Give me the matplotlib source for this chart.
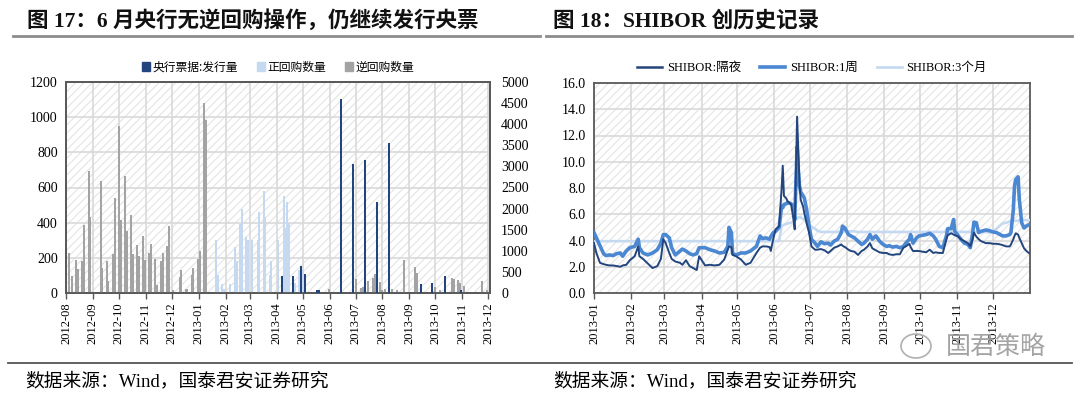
import matplotlib
matplotlib.use('Agg')
import matplotlib.pyplot as plt
import matplotlib.dates as mdates
from matplotlib.patches import Rectangle, Patch, Ellipse
from matplotlib.lines import Line2D
import pandas as pd

plt.rcParams['font.family'] = ['Liberation Serif', 'Noto Sans CJK SC', 'DejaVu Sans']
plt.rcParams['hatch.color'] = '#e4e4e4'
plt.rcParams['hatch.linewidth'] = 0.8

# ---- 图17 data (亿元) ----
cb_dates = ['2013-04-07', '2013-04-20', '2013-04-29', '2013-05-04', '2013-05-18', '2013-05-20',
            '2013-06-14', '2013-06-28', '2013-07-12', '2013-07-26', '2013-08-09', '2013-09-14',
            '2013-09-27', '2013-10-12', '2013-10-30']
cb_vals = [410, 410, 640, 460, 80, 80, 4605, 3065, 3160, 2150, 3555, 220, 237, 410, 80]

pr_dates = ['2013-01-21', '2013-01-23', '2013-01-28', '2013-01-30', '2013-02-06', '2013-02-12',
            '2013-02-14', '2013-02-18', '2013-02-20', '2013-02-25', '2013-02-27', '2013-03-03',
            '2013-03-10', '2013-03-12', '2013-03-17', '2013-03-19', '2013-03-24', '2013-03-26',
            '2013-04-02', '2013-04-09', '2013-04-11', '2013-04-13', '2013-04-15', '2013-04-22',
            '2013-04-27', '2013-05-01', '2013-05-03']
pr_vals = [300, 100, 50, 20, 50, 260, 180, 390, 480, 320, 300, 300, 300, 460, 580, 430, 100, 180,
           300, 550, 370, 520, 400, 55, 130, 133, 110]

rr_dates = ['2012-08-05', '2012-08-08', '2012-08-12', '2012-08-15', '2012-08-19', '2012-08-22',
            '2012-08-27', '2012-08-29', '2012-09-10', '2012-09-12', '2012-09-17', '2012-09-19',
            '2012-09-24', '2012-09-26', '2012-10-01', '2012-10-03', '2012-10-08', '2012-10-10',
            '2012-10-15', '2012-10-17', '2012-10-22', '2012-10-24', '2012-10-29', '2012-10-31',
            '2012-11-05', '2012-11-07', '2012-11-12', '2012-11-14', '2012-11-19', '2012-11-21',
            '2012-11-26', '2012-11-28', '2012-12-02', '2012-12-10', '2012-12-12', '2012-12-17',
            '2012-12-19', '2012-12-24', '2012-12-26', '2012-12-31', '2013-01-02', '2013-01-07',
            '2013-01-09', '2013-05-31', '2013-07-01', '2013-07-07', '2013-07-09', '2013-07-15',
            '2013-07-21', '2013-07-23', '2013-07-29', '2013-07-31', '2013-08-04', '2013-08-12',
            '2013-08-18', '2013-08-26', '2013-09-08', '2013-09-10', '2013-10-01', '2013-10-06',
            '2013-10-20', '2013-10-22', '2013-10-27', '2013-10-29', '2013-11-03', '2013-11-24',
            '2013-11-30']
rr_vals = [230, 95, 185, 135, 180, 385, 695, 435, 635, 145, 180, 70, 220, 540, 950, 415, 665, 350,
           445, 220, 275, 210, 325, 190, 230, 280, 195, 45, 180, 225, 265, 380, 15, 90, 130, 25,
           25, 105, 140, 195, 240, 1080, 985, 20, 80, 28, 34, 66, 83, 110, 62, 19, 23, 20, 15,
           190, 150, 115, 34, 15, 83, 80, 76, 57, 42, 66, 15]

# ---- 图18 data (%) ----
sh_dates = ['2013-01-01', '2013-01-03', '2013-01-06', '2013-01-09', '2013-01-11', '2013-01-14',
            '2013-01-17', '2013-01-20', '2013-01-23', '2013-01-25', '2013-01-28', '2013-01-31',
            '2013-02-04', '2013-02-07', '2013-02-08', '2013-02-11', '2013-02-15', '2013-02-19',
            '2013-02-23', '2013-02-26', '2013-02-28', '2013-03-02', '2013-03-05', '2013-03-07',
            '2013-03-10', '2013-03-14', '2013-03-16', '2013-03-19', '2013-03-22', '2013-03-25',
            '2013-03-28', '2013-03-30', '2013-04-04', '2013-04-08', '2013-04-12', '2013-04-16',
            '2013-04-20', '2013-04-23', '2013-04-24', '2013-04-26', '2013-04-27', '2013-04-30',
            '2013-05-04', '2013-05-08', '2013-05-12', '2013-05-17', '2013-05-20', '2013-05-22',
            '2013-05-25', '2013-05-28', '2013-05-29', '2013-05-31', '2013-06-02', '2013-06-05',
            '2013-06-07', '2013-06-08', '2013-06-09', '2013-06-11', '2013-06-12', '2013-06-15',
            '2013-06-17', '2013-06-18', '2013-06-20', '2013-06-21', '2013-06-22', '2013-06-23',
            '2013-06-25', '2013-06-26', '2013-06-28', '2013-06-30', '2013-07-02', '2013-07-05',
            '2013-07-07', '2013-07-10', '2013-07-13', '2013-07-16', '2013-07-18', '2013-07-21',
            '2013-07-24', '2013-07-27', '2013-07-28', '2013-07-30', '2013-08-02', '2013-08-04',
            '2013-08-07', '2013-08-10', '2013-08-13', '2013-08-15', '2013-08-18', '2013-08-20',
            '2013-08-22', '2013-08-25', '2013-08-28', '2013-08-31', '2013-09-03', '2013-09-05',
            '2013-09-08', '2013-09-11', '2013-09-14', '2013-09-17', '2013-09-19', '2013-09-22',
            '2013-09-23', '2013-09-25', '2013-09-28', '2013-09-30', '2013-10-03', '2013-10-06',
            '2013-10-09', '2013-10-12', '2013-10-14', '2013-10-17', '2013-10-20', '2013-10-23',
            '2013-10-24', '2013-10-27', '2013-10-29', '2013-10-30', '2013-11-02', '2013-11-04',
            '2013-11-07', '2013-11-10', '2013-11-12', '2013-11-14', '2013-11-15', '2013-11-17',
            '2013-11-19', '2013-11-21', '2013-11-25', '2013-11-28', '2013-12-01', '2013-12-04',
            '2013-12-07', '2013-12-09', '2013-12-12', '2013-12-15', '2013-12-16', '2013-12-18',
            '2013-12-19', '2013-12-20', '2013-12-22', '2013-12-23', '2013-12-25', '2013-12-27',
            '2013-12-29', '2013-12-31']
shibor_on = [3.8, 3.05, 2.3, 2.2, 2.15, 2.1, 2.1, 2.05, 2.0, 2.1, 2.15, 2.5,
             2.8, 3.55, 2.8, 2.6, 2.25, 1.9, 2.05, 2.6, 4.1, 3.8, 3.05, 2.6,
             2.4, 2.3, 2.15, 2.5, 2.05, 1.9, 1.75, 2.8, 2.1, 2.15, 2.1, 2.15,
             2.55, 3.3, 3.55, 3.5, 2.9, 2.8, 2.55, 2.15, 2.3, 3.05, 3.45, 3.55,
             3.55, 3.5, 3.2, 4.1, 4.85, 5.1, 7.9, 9.7, 7.4, 7.2, 7.0, 6.75,
             5.6, 4.85, 13.44, 11.0, 8.4, 7.1, 6.6, 6.1, 5.3, 4.6, 3.55, 3.3,
             3.3, 3.35, 3.25, 3.05, 3.2, 3.45, 3.55, 3.7, 3.6, 3.5, 3.3, 3.2,
             3.15, 2.9, 3.2, 3.3, 3.55, 3.8, 3.4, 3.25, 3.1, 3.05, 3.05, 2.95,
             2.9, 2.95, 2.95, 3.45, 3.55, 3.75, 3.5, 3.2, 3.2, 3.2, 3.15, 3.1,
             3.3, 3.05, 3.1, 3.05, 3.05, 4.1, 4.4, 4.55, 4.45, 4.4, 4.3, 4.1,
             3.95, 3.8, 3.55, 4.1, 4.6, 4.3, 4.1, 3.95, 3.8, 3.8, 3.75, 3.75,
             3.7, 3.65, 3.55, 3.55, 3.7, 4.1, 4.35, 4.55, 4.45, 4.2, 3.8, 3.4,
             3.2, 3.05]
shibor_1w = [4.6, 4.2, 3.6, 3.0, 2.85, 2.9, 2.85, 3.0, 3.05, 2.8, 3.2, 3.45,
             3.55, 4.1, 3.45, 3.05, 2.9, 3.05, 3.3, 3.8, 4.45, 4.45, 4.2, 3.45,
             2.9, 3.2, 3.35, 3.2, 3.0, 2.9, 3.0, 3.45, 3.45, 3.3, 3.2, 3.05,
             3.1, 3.55, 5.0, 4.6, 3.0, 2.9, 3.05, 3.05, 3.2, 3.55, 4.35, 4.15,
             4.2, 4.1, 4.3, 4.6, 4.7, 5.0, 6.6, 6.5, 6.75, 6.8, 6.9, 6.8,
             6.6, 5.6, 11.1, 9.4, 8.15, 7.7, 7.4, 7.25, 6.35, 5.1, 4.1, 3.8,
             3.55, 3.9, 3.75, 3.8, 3.65, 3.95, 4.1, 4.6, 5.1, 4.95, 4.45, 4.35,
             4.2, 3.95, 3.7, 3.8, 4.1, 4.45, 4.1, 4.35, 3.95, 3.7, 3.55, 3.6,
             3.5, 3.55, 3.45, 3.55, 3.8, 4.1, 4.45, 3.8, 4.2, 4.35, 4.4, 4.45,
             4.55, 4.35, 4.1, 3.55, 3.45, 4.35, 4.9, 4.9, 5.6, 4.7, 4.35, 4.1,
             3.8, 3.7, 3.45, 4.6, 5.4, 5.35, 4.6, 4.7, 4.8, 4.75, 4.65, 4.6,
             4.45, 4.35, 4.35, 4.45, 4.6, 6.35, 8.15, 8.65, 8.85, 7.15, 5.35, 4.95,
             5.1, 5.2]
shibor_3m = [3.95] * 54 + \
            [5.1, 5.15, 5.2, 5.25, 5.3, 5.35, 5.45, 5.5, 5.7, 5.75, 5.8, 5.75,
             5.65, 5.6, 5.4, 5.25, 5.05, 4.9, 4.75] + \
            [4.65] * 6 + [4.7] * 6 + [4.65] * 44 + \
            [4.6, 4.7, 4.9, 5.15, 5.3, 5.35, 5.45, 5.5, 5.5, 5.5, 5.5, 5.5,
             5.55, 5.55, 5.55, 5.55, 5.55]

C_DARK = '#22457e'
C_MID = '#4c87d2'
C_LIGHT = '#c5d9f1'
C_GRAY = '#a3a3a3'
GRID = '#d9d9d9'
SPINE = '#595959'


def style_axes(ax):
    bg = Rectangle((0, 0), 1, 1, transform=ax.transAxes, facecolor='white',
                   edgecolor='#e4e4e4', hatch='////', lw=0, zorder=0)
    ax.add_patch(bg)
    ax.set_axisbelow(True)
    ax.grid(True, color=GRID, lw=1.2)
    for s in ax.spines.values():
        s.set_color(SPINE)
        s.set_linewidth(1.3)
    ax.xaxis.set_major_locator(mdates.MonthLocator())
    ax.xaxis.set_major_formatter(mdates.DateFormatter('%Y-%m'))
    ax.tick_params(axis='x', length=4, width=1, color=SPINE, labelsize=9, rotation=90, pad=3)
    ax.tick_params(axis='y', length=0, labelsize=10, pad=6)
    for lab in ax.get_xticklabels() + ax.get_yticklabels():
        lab.set_family('Liberation Serif')


fig = plt.figure(figsize=(10.8, 3.93), dpi=100)

# ---------- 图17 ----------
ax1 = fig.add_axes([66 / 1080, 1 - 293 / 393, 424 / 1080, 211 / 393])
ax1r = ax1.twinx()
w = 2.3
ax1.bar(pd.to_datetime(rr_dates), rr_vals, width=w, color=C_GRAY, zorder=3)
ax1.bar(pd.to_datetime(pr_dates), pr_vals, width=w, color=C_LIGHT, zorder=3)
ax1r.bar(pd.to_datetime(cb_dates), cb_vals, width=w, color=C_DARK, zorder=3)
ax1.set_ylim(0, 1200)
ax1.set_yticks(range(0, 1201, 200))
ax1r.set_ylim(0, 5000)
ax1r.set_yticks(range(0, 5001, 500))
ax1.set_xlim(pd.Timestamp('2012-08-01'), pd.Timestamp('2013-12-03'))
style_axes(ax1)
ax1r.tick_params(axis='y', length=0, labelsize=10, pad=8)
for lab in ax1r.get_yticklabels():
    lab.set_family('Liberation Serif')
for s in ax1r.spines.values():
    s.set_color(SPINE)
    s.set_linewidth(1.3)

h1 = [Patch(color=C_DARK), Patch(color=C_LIGHT), Patch(color=C_GRAY)]
ax1.legend(h1, ['央行票据:发行量', '正回购数量', '逆回购数量'], loc='lower center',
           bbox_to_anchor=(0.5, 1.0), ncol=3, frameon=False, handlelength=0.7,
           handleheight=0.7, handletextpad=0.2, columnspacing=1.6,
           prop={'family': ['Noto Sans CJK SC'], 'size': 8.5}, borderaxespad=0.3)

# ---------- 图18 ----------
ax2 = fig.add_axes([594 / 1080, 1 - 293 / 393, 436 / 1080, 210 / 393])
d = pd.to_datetime(sh_dates)
ax2.plot(d, shibor_3m, color=C_LIGHT, lw=1.9, zorder=3, label='SHIBOR:3个月')
ax2.plot(d, shibor_1w, color=C_MID, lw=2.6, zorder=4, label='SHIBOR:1周')
ax2.plot(d, shibor_on, color=C_DARK, lw=1.4, zorder=5, label='SHIBOR:隔夜')
ax2.set_ylim(0, 16)
ax2.set_yticks(range(0, 17, 2))
ax2.yaxis.set_major_formatter(matplotlib.ticker.FormatStrFormatter('%.1f'))
ax2.set_xlim(pd.Timestamp('2013-01-01'), pd.Timestamp('2013-12-31 23:00'))
style_axes(ax2)
h2 = [Line2D([], [], color=C_DARK, lw=1.8), Line2D([], [], color=C_MID, lw=2.6),
      Line2D([], [], color=C_LIGHT, lw=1.9)]
ax2.legend(h2, ['SHIBOR:隔夜', 'SHIBOR:1周', 'SHIBOR:3个月'], loc='lower center',
           bbox_to_anchor=(0.5, 1.0), ncol=3, frameon=False, handlelength=2.0,
           handletextpad=0.4, columnspacing=1.5,
           prop={'family': ['Liberation Serif', 'Noto Sans CJK SC'], 'size': 9},
           borderaxespad=0.3)

# ---------- titles, rules, source ----------
title_font = ['Liberation Serif', 'Noto Sans CJK SC']
fig.text(27 / 1080, 1 - 21 / 393, '图 17：6 月央行无逆回购操作，仍继续发行央票',
         family=title_font, weight='bold', size=15.5, va='center', ha='left', color='#111111')
fig.text(553 / 1080, 1 - 21 / 393, '图 18：SHIBOR 创历史记录',
         family=title_font, weight='bold', size=15.5, va='center', ha='left', color='#111111')
fig.add_artist(Line2D([13 / 1080, 540 / 1080], [1 - 36 / 393] * 2, color='#8c8c8c', lw=2))
fig.add_artist(Line2D([546 / 1080, 1072 / 1080], [1 - 36 / 393] * 2, color='#8c8c8c', lw=2))
fig.add_artist(Line2D([8 / 1080, 1072 / 1080], [1 - 363 / 393] * 2, color='#555555', lw=1.3))
src_font = ['Liberation Serif', 'Noto Sans CJK SC']
fig.text(25 / 1080, 1 - 381 / 393, '数据来源：Wind，国泰君安证券研究', family=src_font,
         size=13.5, va='center', ha='left')
fig.text(553 / 1080, 1 - 381 / 393, '数据来源：Wind，国泰君安证券研究', family=src_font,
         size=13.5, va='center', ha='left')
# watermark
fig.add_artist(Ellipse((916 / 1080, 1 - 346 / 393), 30 / 1080, 24 / 393, fill=False,
                       ec='#b0b0b0', lw=1.2))
fig.text(1046 / 1080, 1 - 347 / 393, '国君策略', family=['Noto Sans CJK SC'], size=18,
         color='#9a9a9a', va='center', ha='right', alpha=0.9)

fig.savefig('out.png', dpi=100)
